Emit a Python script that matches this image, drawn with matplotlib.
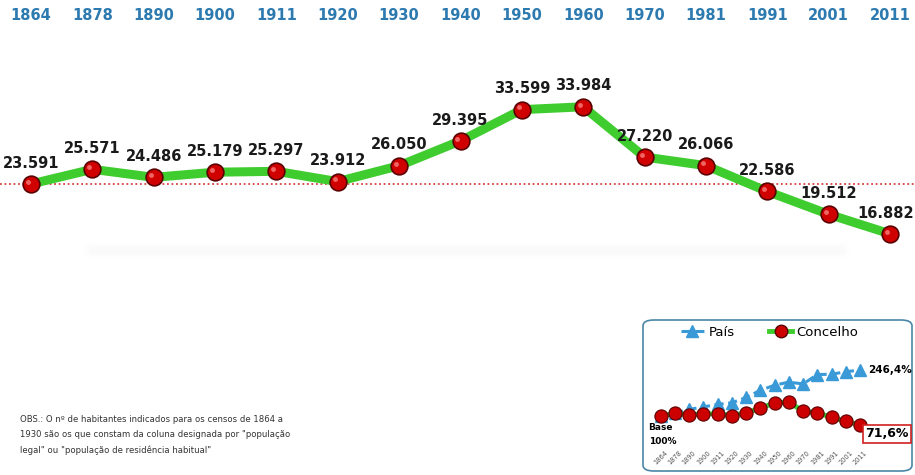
import numpy as np
import matplotlib.pyplot as plt
from matplotlib.patches import FancyBboxPatch
from matplotlib.lines import Line2D

anos = ['1864', '1878', '1890', '1900', '1911', '1920', '1930', '1940',
        '1950', '1960', '1970', '1981', '1991', '2001', '2011']
concelho = [23591, 25571, 24486, 25179, 25297, 23912, 26050, 29395,
            33599, 33984, 27220, 26066, 22586, 19512, 16882]
# evolução do país em % (1864 = 100)
pais = [100, 108, 121, 129, 137, 142, 159, 182, 198, 208, 202, 232, 233, 241, 246.4]

W, H = 915, 475
fig = plt.figure(figsize=(W / 100, H / 100), dpi=100)

verde = '#3fcc2e'
azul_anos = '#2c7ab0'

# ---- gráfico principal ----
ax = fig.add_axes([0, 0, 1, 1])
x = np.arange(len(anos))
px_idx = (890 - 31) / 14
ax.set_xlim(-31 / px_idx, 14 + (W - 890) / px_idx)
px_hab = 7.43 / 1000
ax.set_ylim(concelho[0] - (H - 184) / px_hab, concelho[0] + 184 / px_hab)
ax.axis('off')

# sombra esbatida por baixo da linha
for lw, a in [(14, 0.008), (9, 0.012), (5, 0.012)]:
    ax.plot([1, 13.2], [14700, 14700], color='#888888', lw=lw, alpha=a,
            solid_capstyle='round')

ax.axhline(concelho[0], color='#d84040', lw=1.3, ls=(0, (1, 1.5)), zorder=1)
ax.plot(x, concelho, color=verde, lw=6.5, zorder=2, solid_joinstyle='round')
ax.plot(x, concelho, 'o', ms=12, mfc='#d00000', mec='#5a0000', mew=1.2, zorder=3)
ax.plot(x - 0.05, np.array(concelho) + 300, 'o', ms=3.5, mfc='#ff9090',
        mec='none', alpha=0.7, zorder=4)

for xi, v in zip(x, concelho):
    dx = -3 if xi == x[-1] else 0
    ax.annotate(f'{v:,}'.replace(',', '.'), (xi, v), xytext=(dx, 15),
                textcoords='offset points', ha='center', va='center',
                fontsize=10.5, fontweight='bold', color='#1a1a1a')

for xi, a in zip(x, anos):
    ax.text(xi, 0.967, a, transform=ax.get_xaxis_transform(), ha='center',
            va='center', fontsize=10.5, fontweight='bold', color=azul_anos)

fig.text(20 / W, 1 - 435 / H,
         'OBS.: O nº de habitantes indicados para os censos de 1864 a\n'
         '1930 são os que constam da coluna designada por "população\n'
         'legal" ou "população de residência habitual"',
         fontsize=6.1, color='#333333', va='center', ha='left', linespacing=1.9)

# ---- gráfico pequeno (índice 1864 = 100) ----
bx, by, bw, bh = 643, 320, 269, 151
caixa = FancyBboxPatch((bx / W, 1 - (by + bh) / H), bw / W, bh / H,
                       boxstyle='round,pad=0,rounding_size=0.012',
                       transform=fig.transFigure, fc='white', ec='#4a86a8',
                       lw=1.2, zorder=5)
fig.patches.append(caixa)

ins = fig.add_axes([bx / W, 1 - (by + bh) / H, bw / W, bh / H], zorder=6)
ins.patch.set_alpha(0)
ins.axis('off')
pi = 14.24
ins.set_xlim(-(660.7 - bx) / pi, (bx + bw - 660.7) / pi)
py = 0.314
ins.set_ylim(100 - (by + bh - 416) / py, 100 + (416 - by) / py)

indice = np.array(concelho) / concelho[0] * 100
ins.plot(x, pais, color='#3a9ad8', lw=2.2, ls=(0, (3, 1.5)), marker='^', ms=8,
         mfc='#3a9ad8', mec='#3a9ad8')
ins.plot(x, indice, color=verde, lw=3.5, marker='o', ms=9.5, mfc='#cc0000',
         mec='#5a0000', mew=0.8)

ins.text(14.55, pais[-1], f'{pais[-1]:.1f}%'.replace('.', ','), fontsize=7.5,
         fontweight='bold', va='center', ha='left')
ins.text(14.35, 43, f'{indice[-1]:.1f}%'.replace('.', ','),
         fontsize=9, fontweight='bold', va='center', ha='left',
         bbox=dict(boxstyle='square,pad=0.2', fc='white', ec='#d02020', lw=1.2))
ins.text(-0.85, 40, 'Base\n100%', fontsize=6.5, fontweight='bold',
         va='center', ha='left', linespacing=1.7)

for xi, a in zip(x, anos):
    ins.text(xi, 0.09, a, transform=ins.get_xaxis_transform(), rotation=45,
             ha='center', va='center', fontsize=4.8, color='#555555')

handles = [Line2D([], [], color='#3a9ad8', lw=2.2, ls=(0, (3, 1.5)), marker='^',
                  ms=8),
           Line2D([], [], color=verde, lw=3.5, marker='o', ms=9, mfc='#cc0000',
                  mec='#5a0000')]
ins.legend(handles, ['País', 'Concelho'], loc='upper center', ncol=2,
           frameon=False, fontsize=9.5, handlelength=1.8, handletextpad=0.3,
           columnspacing=2.6, bbox_to_anchor=(0.47, 1.04))

fig.savefig('out.png', dpi=100)
